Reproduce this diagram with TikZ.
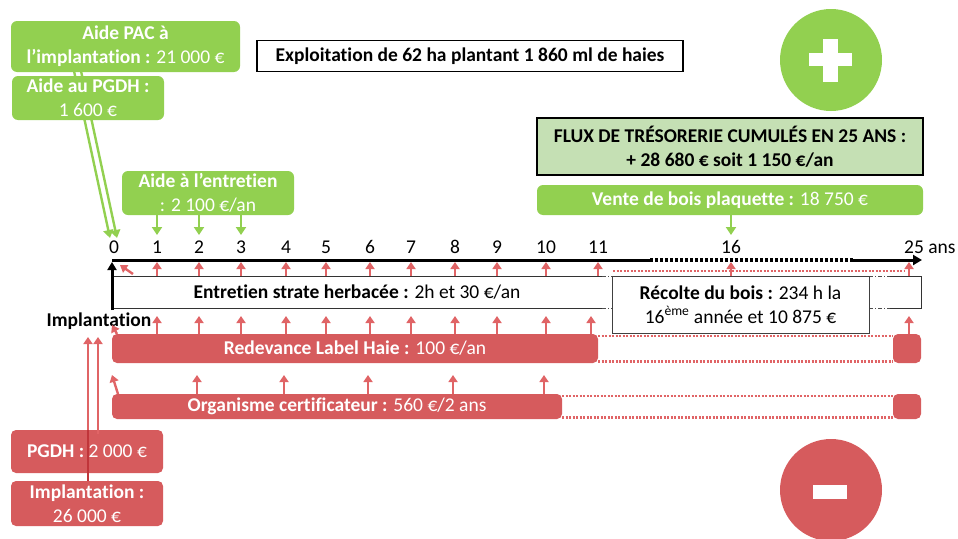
\documentclass[tikz,border=0pt]{standalone}
\usepackage{fontspec}
\setmainfont{Carlito}[RawFeature={-liga;-clig;-calt;-dlig}]
\usetikzlibrary{arrows.meta}
\definecolor{pgreen}{HTML}{92D050}
\definecolor{pred}{HTML}{D65B5D}
\definecolor{parr}{HTML}{E06466}
\definecolor{darr}{HTML}{C0353A}
\definecolor{lgreen}{HTML}{C5E0B4}
\begin{document}
\begin{tikzpicture}[x=1pt,y=-1pt,
  txt/.style={font=\fontsize{19.5}{24}\selectfont},
  gbox/.style={txt,fill=pgreen,rounded corners=6pt,text=white,align=center,inner sep=0pt},
  rbox/.style={txt,fill=pred,rounded corners=5pt,text=white,align=center,inner sep=0pt},
  kbox/.style={txt,draw=black,line width=1.8pt,align=center,inner sep=0pt},
  tick/.style={txt,inner sep=0pt},
  garr/.style={draw=pgreen,line width=2.4pt,-{Triangle[length=8pt,width=10pt]}},
  rarr/.style={draw=parr,line width=2.4pt,-{Triangle[length=7pt,width=9pt]}},
  rdot/.style={draw=parr,line width=2.6pt,dash pattern=on 2pt off 1.5pt},
  thin/.style={draw=black!80,line width=1pt},
  dd/.style={draw=black!70,line width=1pt,dash pattern=on 4pt off 2pt on 1pt off 2pt}]
\useasboundingbox (0,0) rectangle (958,538);

% ---- green double arrow to 0 (behind the PGDH box)
\coordinate (g1s) at (74,71);
\coordinate (g1e) at (110,238);
\coordinate (g2s) at (81,71);
\coordinate (g2e) at (117,238);
\draw[garr] (g1s) -- (g1e);
\draw[garr] (g2s) -- (g2e);

% ---- green boxes
\node[gbox,minimum width=229pt,minimum height=51pt] (pac) at (125.5,46.5)
  {\textbf{Aide PAC à}\\\textbf{l’implantation :} 21 000 €};
\node[gbox,minimum width=152pt,minimum height=44pt] (pgdh) at (88,98)
  {\textbf{Aide au PGDH :}\\1 600 €};
\node[gbox,minimum width=172pt,minimum height=44pt] (ent) at (208,193)
  {\textbf{Aide à l’entretien}\\: 2 100 €/an};
\node[gbox,minimum width=386pt,minimum height=30pt] (vente) at (730,200)
  {\textbf{Vente de bois plaquette :} 18 750 €};

% ---- black framed boxes
\node[kbox,minimum width=426pt,minimum height=31pt] (expl) at (470,56)
  {\textbf{Exploitation de 62 ha plantant 1 860 ml de haies}};
\node[kbox,fill=lgreen,minimum width=386pt,minimum height=57pt] (flux) at (730,146.5)
  {\textbf{FLUX DE TRÉSORERIE CUMULÉS EN 25 ANS :}\\\textbf{+ 28 680 € soit 1 150 €/an}};

% ---- plus / minus circles
\node[circle,fill=pgreen,minimum size=102pt,inner sep=0pt] (plus) at (831,60) {};
\fill[white] (809,53) rectangle (852,66);
\fill[white] (823,39) rectangle (838,82);
\node[circle,fill=pred,minimum size=102pt,inner sep=0pt] (minus) at (831,490) {};
\fill[white] (813,485) rectangle (847,499);

% ---- tick labels
\foreach \n/\x in {0/114,1/157,2/199,3/241,4/286,5/326,6/370,7/411,8/455,9/497,10/546,11/598,16/731}
  \node[tick] (t\n) at (\x,247) {\n};
\node[tick,anchor=west] (t25) at (904,247) {25 ans};
\coordinate (c25) at (909,247);

% ---- axis
\coordinate (axL) at (112,260);
\coordinate (axA) at (650,260);
\coordinate (axB) at (853,260);
\coordinate (axR) at (922,260);
\draw[line width=3pt] (axL) -- (axA);
\draw[line width=3.2pt,dash pattern=on 3pt off 2pt] (axA) -- (axB);
\draw[line width=3pt,-{Triangle[length=9pt,width=10pt]}] (axB) -- (axR);

% ---- green arrows from "Aide a l'entretien" and "Vente"
\coordinate (gtip) at (0,235);
\foreach \n in {1,2,3} \draw[garr] (t\n |- ent.south) -- (t\n |- gtip);
\draw[garr] (t16 |- vente.south) -- (t16 |- gtip);

% ---- entretien strate herbacee band
\coordinate (eA) at (112,276);
\coordinate (eB) at (602,276);
\coordinate (eC) at (612,276);
\coordinate (eD) at (869,276);
\coordinate (eE) at (890,276);
\coordinate (eF) at (921,276);
\coordinate (fA) at (112,308);
\coordinate (fB) at (602,308);
\coordinate (fC) at (612,308);
\coordinate (fD) at (869,308);
\coordinate (fE) at (890,308);
\coordinate (fF) at (921,308);
\draw[thin] (eA) -- (eB);
\draw[thin] (fA) -- (fB);
\draw[dd] (eB) -- (eC);
\draw[dd] (fB) -- (fC);
\draw[dd] (eD) -- (eE);
\draw[dd] (fD) -- (fE);
\draw[thin] (eE) -- (eF) -- (fF) -- (fE);
\node[txt,inner sep=0pt] (entx) at (357,292) {\textbf{Entretien strate herbacée :} 2h et 30 €/an};
\node[txt,draw=black!75,line width=1pt,fill=white,align=center,inner sep=0pt,
  minimum width=257pt,minimum height=57pt] (recolte) at (740.5,304.5)
  {\textbf{Récolte du bois :} 234 h la\\16\textsuperscript{ème} année et 10 875 €};

% ---- black implantation arrow
\coordinate (kb) at (112,310);
\coordinate (kt) at (112,262);
\draw[line width=3pt,-{Triangle[length=8pt,width=9pt]}] (kb) -- (kt);
\node[txt,inner sep=0pt] (implab) at (99,321) {\textbf{Implantation}};

% ---- red dotted line under the axis
\coordinate (d1) at (613,271);
\coordinate (d2) at (905,271);
\draw[rdot] (d1) -- (d2);

% ---- upper red arrows
\coordinate (ubase) at (0,276);
\coordinate (utip) at (0,262);
\foreach \n in {1,...,11,16} \draw[rarr] (t\n |- ubase) -- (t\n |- utip);
\draw[rarr] (c25 |- ubase) -- (c25 |- utip);
\coordinate (u0s) at (133,274);
\coordinate (u0e) at (120,265);
\draw[rarr] (u0s) -- (u0e);

% ---- red boxes
\node[rbox,minimum width=486pt,minimum height=29pt] (redev) at (355,348.5)
  {\textbf{Redevance Label Haie :} 100 €/an};
\node[rbox,minimum width=28pt,minimum height=29pt] (redevR) at (907,348.5) {};
\node[rbox,minimum width=450pt,minimum height=25pt] (org) at (337,406.5)
  {\textbf{Organisme certificateur :} 560 €/2 ans};
\node[rbox,minimum width=28pt,minimum height=25pt] (orgR) at (907,406.5) {};
\node[rbox,minimum width=152pt,minimum height=43pt] (pgdhR) at (87,451.5)
  {\textbf{PGDH :} 2 000 €};
\node[rbox,minimum width=152pt,minimum height=45pt] (impl) at (87,503.5)
  {\textbf{Implantation :}\\26 000 €};

% ---- red dotted continuations
\draw[rdot] ([yshift=-2pt]redev.north east) -- ([yshift=-2pt]redevR.north west);
\draw[rdot] ([yshift=2pt]redev.south east) -- ([yshift=2pt]redevR.south west);
\draw[rdot] ([yshift=-2pt]org.north east) -- ([yshift=-2pt]orgR.north west);
\draw[rdot] ([yshift=2pt]org.south east) -- ([yshift=2pt]orgR.south west);

% ---- arrows above Redevance
\coordinate (ltip) at (0,316);
\foreach \n in {1,...,10} \draw[rarr] (t\n |- redev.north) -- (t\n |- ltip);
\coordinate (c11) at (591,316);
\draw[rarr] (c11 |- redev.north) -- (c11);
\draw[rarr] (c25 |- redevR.north) -- (c25 |- ltip);
\coordinate (r0s) at (117,334);
\coordinate (r0e) at (112,325);
\draw[rarr] (r0s) -- (r0e);

% ---- arrows above Organisme
\coordinate (otip) at (0,375);
\foreach \n in {2,4,6,8,10} \draw[rarr] ([xshift=-2pt]t\n |- org.north) -- ([xshift=-2pt]t\n |- otip);
\coordinate (o0s) at (118,394);
\coordinate (o0e) at (112,375);
\draw[rarr] (o0s) -- (o0e);

% ---- implantation cost arrows
\coordinate (ia) at (88,337);
\coordinate (ib) at (98,337);
\draw[rarr] (ia |- impl.north) -- (ia);
\draw[rarr] ([yshift=-4pt]ib |- pgdhR.north) -- (ib);
\draw[draw=darr,line width=2.4pt] (ia |- impl.north) -- (ia |- pgdhR.north);
\end{tikzpicture}
\end{document}
